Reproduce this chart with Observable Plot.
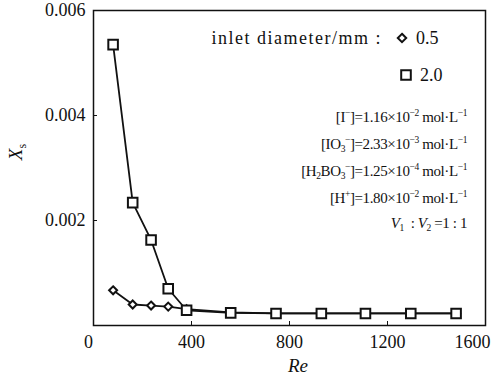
<!DOCTYPE html>
<html><head><meta charset="utf-8">
<script src="https://cdn.jsdelivr.net/npm/d3@7"></script>
<script src="https://cdn.jsdelivr.net/npm/@observablehq/plot@0.6"></script>
<style>body{margin:0;background:#fff} svg text, svg tspan{font-family:'Liberation Serif','DejaVu Serif',serif !important; font-variant: normal !important;}</style>
</head><body><div id="chart"></div>
<script>
const re20 = [80,160,235,305,380,560,745,930,1110,1295,1480];
const xs20 = [0.00535,0.00234,0.00163,0.00070,0.00029,0.00024,0.00023,0.00023,0.00023,0.00023,0.00023];
const re05 = [80,160,235,305,380,560,745,930,1110,1295,1480];
const xs05 = [0.00067,0.00040,0.00038,0.00036,0.00031,0.00025,0.00023,0.00023,0.00023,0.00023,0.00023];
const xTicks = [0,400,800,1200,1600];
const yTicks = [0.002,0.004,0.006];
const legendTitle = "inlet diameter/mm :";
const legendLabels = ["0.5","2.0"];

const d20 = re20.map((x,i)=>({x,y:xs20[i]}));
const d05 = re05.map((x,i)=>({x,y:xs05[i]}));
const font = "'Liberation Serif','DejaVu Serif',serif";
const ax = {tickSize: 0, tickPadding: 10, tickFormat: d3.format("d"), label: null, fontSize: 18, fontFamily: font};

const plot = Plot.plot({
  width: 491, height: 377,
  marginLeft: 93, marginRight: 6, marginTop: 10, marginBottom: 52,
  style: {fontFamily: font, fontSize: "18px", color: "#111", background: "#fff"},
  x: {domain: [0,1600]},
  y: {domain: [0,0.006]},
  marks: [
    Plot.frame({stroke: "#111", strokeWidth: 1.5}),
    Plot.axisX({...ax, ticks: xTicks.slice(1,-1)}),
    Plot.axisX({...ax, ticks: [0], dx: -5}),
    Plot.axisX({...ax, ticks: [1600], dx: -13}),
    Plot.axisX({ticks: xTicks.slice(1,-1), tickSize: -4, tickFormat: () => "", label: null}),
    Plot.axisY({ticks: yTicks, tickSize: 0, tickPadding: 8, tickFormat: d3.format(".3f"), label: null, fontSize: 18, fontFamily: font}),
    Plot.axisY({ticks: yTicks.slice(0,-1), tickSize: -4, tickFormat: () => "", label: null}),
    Plot.line(d05, {x: "x", y: "y", stroke: "#111", strokeWidth: 1.8}),
    Plot.line(d20, {x: "x", y: "y", stroke: "#111", strokeWidth: 1.8}),
    Plot.dot(d05, {x: "x", y: "y", symbol: "diamond2", r: 3.6, fill: "#fff", stroke: "#111", strokeWidth: 2}),
    Plot.dot(d20, {x: "x", y: "y", symbol: "square", r: 5.4, fill: "#fff", stroke: "#111", strokeWidth: 2})
  ]
});
document.getElementById("chart").append(plot);

const svg = d3.select(plot);
const g = svg.append("g").attr("font-family", font).attr("fill", "#111").attr("text-anchor", "start");
// axis titles
g.append("text").attr("x", 298).attr("y", 372).attr("text-anchor","middle")
  .attr("font-size", 19).attr("font-style","italic").text("Re");
const yl = g.append("text").attr("transform","translate(22,152) rotate(-90)").attr("text-anchor","middle")
  .attr("font-size", 19);
yl.append("tspan").attr("font-style","italic").text("X");
yl.append("tspan").attr("font-size", 12).attr("dy", 4).text("s");

// legend
g.append("text").attr("x", 382).attr("y", 44).attr("text-anchor","end").attr("font-size", 18)
  .attr("letter-spacing", 1.5).text(legendTitle);
g.append("path").attr("d", d3.symbol(d3.symbolDiamond2, 45)()).attr("transform","translate(402,38)")
  .attr("fill","#fff").attr("stroke","#111").attr("stroke-width",2);
g.append("text").attr("x", 416).attr("y", 44).attr("font-size", 18).text(legendLabels[0]);
g.append("path").attr("d", d3.symbol(d3.symbolSquare, 92)()).attr("transform","translate(406,75)")
  .attr("fill","#fff").attr("stroke","#111").attr("stroke-width",2);
g.append("text").attr("x", 420).attr("y", 81).attr("font-size", 18).text(legendLabels[1]);

// condition lines, each is a list of [text, kind]
const cond = [
  [["[I","n"],["−","sup"],["]=1.16×10","n"],["−2","sup"],[" mol·L","n"],["−1","sup"]],
  [["[IO","n"],["3","sub"],["−","sup"],["]=2.33×10","n"],["−3","sup"],[" mol·L","n"],["−1","sup"]],
  [["[H","n"],["2","sub"],["BO","n"],["3","sub"],["−","sup"],["]=1.25×10","n"],["−4","sup"],[" mol·L","n"],["−1","sup"]],
  [["[H","n"],["+","sup"],["]=1.80×10","n"],["−2","sup"],[" mol·L","n"],["−1","sup"]],
  [["V","i"],["1","sub"],["  : ","n"],["V","i"],["2","sub"],[" =1 : 1","n"]]
];
const ys = [122, 149, 176, 203, 228];
cond.forEach((parts, k) => {
  const t = g.append("text").attr("x", 467).attr("y", ys[k]).attr("text-anchor","end")
    .attr("font-size", 15).attr("letter-spacing", -0.4);
  let shift = 0;
  parts.forEach(([s, kind]) => {
    const sp = t.append("tspan").text(s);
    let target = 0;
    if (kind === "sup") { target = -6; sp.attr("font-size", 9.5); }
    else if (kind === "sub") { target = 3; sp.attr("font-size", 9.5); }
    else if (kind === "i") { sp.attr("font-style","italic"); }
    sp.attr("dy", target - shift);
    shift = target;
  });
});
</script></body></html>
